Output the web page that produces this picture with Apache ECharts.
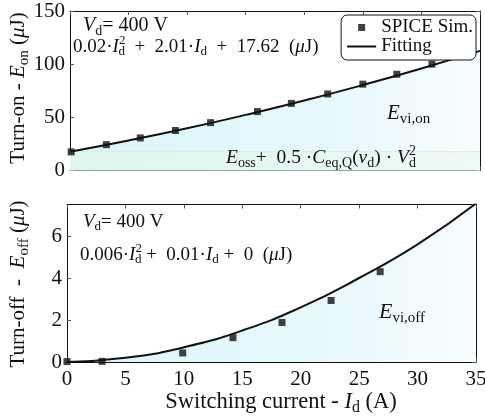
<!DOCTYPE html>
<html>
<head>
<meta charset="utf-8">
<script src="https://cdn.jsdelivr.net/npm/echarts@6/dist/echarts.min.js"></script>
<style>
  html, body { margin: 0; padding: 0; background: #fff; }
  #chart { width: 485px; height: 418px; }
</style>
</head>
<body>
<div id="chart"></div>
<script>
// Turn-on energy: SPICE simulation points (current in A, energy in uJ)
const onSimCurrent = [0.1, 3.1, 6.0, 9.0, 12.0, 16.0, 18.9, 22.0, 25.0, 27.9, 30.9];
const onSimEnergy  = [17.5, 24.3, 30.6, 37.6, 45.0, 55.4, 63.1, 72.0, 81.2, 90.5, 100.0];

// Turn-on fitted curve, read at the x ticks
const fitCurrent = [0, 5, 10, 15, 20, 25, 30, 35];
const onFitEnergy = [17.6, 28.2, 39.7, 52.3, 65.8, 80.4, 96.0, 112.5];

// Constant part of the turn-on energy (Eoss + 0.5*Ceq,Q*Vd^2), uJ
const ossEnergy = 17.62;

// Turn-off energy: SPICE simulation points
const offSimCurrent = [0.0, 3.0, 9.9, 14.2, 18.4, 22.6, 26.8];
const offSimEnergy  = [0.02, 0.03, 0.43, 1.16, 1.88, 2.93, 4.30];

// Turn-off fitted curve, read at the x ticks
const offFitEnergy = [0, 0.2, 0.7, 1.5, 2.6, 4.0, 5.6, 7.55];

// Axis tick settings
const xTicks = { min: 0, max: 35, interval: 5 };
const yOnTicks = { min: 0, max: 150, interval: 50 };
const yOffTicks = { min: 0, max: 7.5, interval: 2 };

const F = '"Liberation Serif", "DejaVu Serif", serif';
const INK = '#111';

function pairs(xs, ys) { return xs.map((x, i) => [x, ys[i]]); }

// rich-text styles: normal, italic, subscript, stacked superscript
function richFor(s) {
  const sub = Math.round(s * 0.7);
  const shift = Math.round(s * 0.55);
  return {
    n:  { fontFamily: F, fontSize: s, color: INK },
    i:  { fontFamily: F, fontSize: s, fontStyle: 'italic', color: INK },
    sb: { fontFamily: F, fontSize: sub, color: INK, padding: [shift, 0, 0, 0] },
    sp: { fontFamily: F, fontSize: sub, color: INK, padding: [0, -Math.round(sub * 0.5), shift + 2, 0] }
  };
}

function label(x, y, text, size, opts) {
  opts = opts || {};
  return {
    type: 'text', x: x, y: y, rotation: opts.rotation || 0, z: 50,
    style: {
      text: text, rich: richFor(size), fontFamily: F, fontSize: size, fill: INK,
      align: opts.align || 'left', verticalAlign: 'middle',
      textAlign: opts.align || 'left', textVerticalAlign: 'middle'
    }
  };
}

function cyanFill() {
  return new echarts.graphic.LinearGradient(0, 0, 1, 0, [
    { offset: 0, color: '#dbf6fc' },
    { offset: 0.6, color: '#e6f8fc' },
    { offset: 1, color: '#f8fdfe' }
  ]);
}
const greenFill = new echarts.graphic.LinearGradient(0, 0, 1, 0, [
  { offset: 0, color: '#ddf7eb' },
  { offset: 1, color: '#eefaf6' }
]);

const frameLine = { show: true, onZero: false, lineStyle: { color: INK, width: 1 } };
const tickStyle = { show: true, inside: true, length: 4, lineStyle: { color: '#555', width: 1 } };
const tickLabel = { fontFamily: F, fontSize: 21, color: INK };

function xAx(grid, pos, showLabels) {
  return Object.assign({
    type: 'value', gridIndex: grid, position: pos,
    axisLine: frameLine, axisTick: tickStyle, splitLine: { show: false },
    axisLabel: showLabels ? Object.assign({ margin: 7 }, tickLabel) : { show: false }
  }, xTicks);
}
function yAx(grid, pos, ticks, showLabels) {
  return Object.assign({
    type: 'value', gridIndex: grid, position: pos,
    axisLine: frameLine, axisTick: tickStyle, splitLine: { show: false },
    axisLabel: showLabels ? Object.assign({ margin: 5, showMaxLabel: ticks.max % ticks.interval === 0 }, tickLabel) : { show: false }
  }, ticks);
}

const option = {
  animation: false,
  backgroundColor: '#fff',
  grid: [
    { left: 70, right: 5, top: 11, height: 159.5, outerBoundsMode: 'none', containLabel: false },
    { left: 67, right: 9, top: 204.5, height: 157.5, outerBoundsMode: 'none', containLabel: false }
  ],
  xAxis: [xAx(0, 'bottom', false), xAx(0, 'top', false), xAx(1, 'bottom', true), xAx(1, 'top', false)],
  yAxis: [yAx(0, 'left', yOnTicks, true), yAx(0, 'right', yOnTicks, false),
          yAx(1, 'left', yOffTicks, true), yAx(1, 'right', yOffTicks, false)],
  legend: {
    data: [
      { name: 'SPICE Sim.', icon: 'path://M0,0h10v10h-10z', itemStyle: { color: INK } },
      { name: 'Fitting', icon: 'path://M0,0h29v2h-29z', itemStyle: { color: INK } }
    ],
    orient: 'vertical', right: 9, top: 15,
    itemWidth: 29, itemHeight: 7, itemGap: 0,
    padding: [3, 3, 4, 6],
    borderColor: INK, borderWidth: 1, borderRadius: 6, backgroundColor: '#fff',
    textStyle: { fontFamily: F, fontSize: 19, color: INK, lineHeight: 18 },
    selectedMode: false, z: 20
  },
  series: [
    {
      name: 'onArea', type: 'line', xAxisIndex: 0, yAxisIndex: 0, smooth: true,
      data: pairs(fitCurrent, onFitEnergy), symbol: 'none', silent: true,
      lineStyle: { width: 0 }, areaStyle: { color: cyanFill(), opacity: 1 }, z: 1
    },
    {
      name: 'ossBand', type: 'line', xAxisIndex: 0, yAxisIndex: 0,
      data: [[xTicks.min, ossEnergy], [xTicks.max, ossEnergy]], symbol: 'none', silent: true,
      lineStyle: { width: 1, color: '#dfe9e6' }, areaStyle: { color: greenFill, opacity: 1 }, z: 2
    },
    {
      name: 'Fitting', type: 'line', xAxisIndex: 0, yAxisIndex: 0, smooth: true,
      data: pairs(fitCurrent, onFitEnergy), symbol: 'none',
      lineStyle: { width: 2, color: INK }, itemStyle: { color: INK }, z: 3
    },
    {
      name: 'SPICE Sim.', type: 'scatter', xAxisIndex: 0, yAxisIndex: 0,
      data: pairs(onSimCurrent, onSimEnergy), symbol: 'rect', symbolSize: 7,
      itemStyle: { color: INK }, z: 4
    },
    {
      name: 'offFit', type: 'line', xAxisIndex: 2, yAxisIndex: 2, smooth: true,
      data: pairs(fitCurrent, offFitEnergy), symbol: 'none',
      lineStyle: { width: 2, color: INK }, areaStyle: { color: cyanFill(), opacity: 1 }, z: 3
    },
    {
      name: 'offSim', type: 'scatter', xAxisIndex: 2, yAxisIndex: 2,
      data: pairs(offSimCurrent, offSimEnergy), symbol: 'rect', symbolSize: 7,
      itemStyle: { color: INK }, z: 4
    }
  ],
  graphic: [
    label(83, 26, '{i|V}{sb|d}{n|= 400 V}', 20),
    label(73, 47, '{n|0.02·}{i|I}{sp|2}{sb|d}{n|  +  2.01·}{i|I}{sb|d}{n|  +  17.62  (}{i|μ}{n|J)}', 19),
    label(387, 113, '{i|E}{sb|vi,on}', 21),
    label(226, 158, '{i|E}{sb|oss}{n|+  0.5 ·}{i|C}{sb|eq,Q}{n|(}{i|v}{sb|d}{n|) · }{i|V}{sp|2}{sb|d}', 19.5),
    label(83, 222, '{i|V}{sb|d}{n|= 400 V}', 19),
    label(80, 255, '{n|0.006·}{i|I}{sp|2}{sb|d}{n| +  0.01·}{i|I}{sb|d}{n| +  0  (}{i|μ}{n|J)}', 19),
    label(379, 312, '{i|E}{sb|vi,off}', 22),
    label(18, 88, '{n|Turn-on - }{i|E}{sb|on}{n| (}{i|μ}{n|J)}', 21, { rotation: Math.PI / 2, align: 'center' }),
    label(18, 284, '{n|Turn-off  -  }{i|E}{sb|off}{n| (}{i|μ}{n|J)}', 21, { rotation: Math.PI / 2, align: 'center' }),
    label(281, 402, '{n|Switching current - }{i|I}{sb|d}{n| (A)}', 22.5, { align: 'center' })
  ]
};

const chart = echarts.init(document.getElementById('chart'), null, { renderer: 'canvas' });
chart.setOption(option);
</script>
</body>
</html>
